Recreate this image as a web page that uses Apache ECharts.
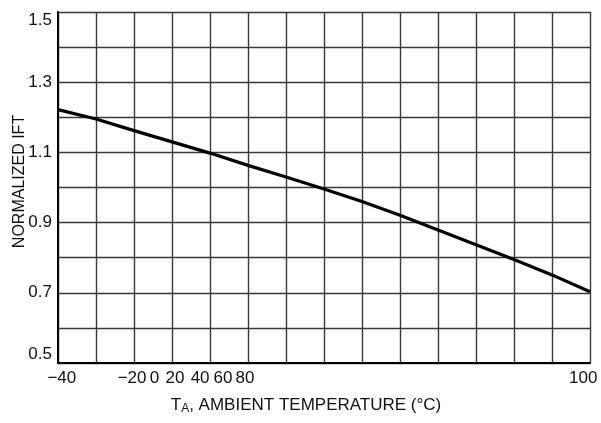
<!DOCTYPE html>
<html>
<head>
<meta charset="utf-8">
<script src="https://cdn.jsdelivr.net/npm/echarts@6/dist/echarts.min.js"></script>
<style>
  html, body { margin: 0; padding: 0; background: #fff; }
  #chart { width: 601px; height: 423px; }
</style>
</head>
<body>
<div id="chart"></div>
<script>
// ambient temperature (°C) and normalized IFT
var tempC = [-40, -30, -20, -10, 0, 10, 20, 30, 40, 50, 60, 70, 80, 90, 100];
var normIft = [1.222, 1.195, 1.162, 1.130, 1.098, 1.063, 1.030, 0.996, 0.960, 0.921, 0.879, 0.837, 0.795, 0.751, 0.703];

// printed x tick labels and the temperature they sit over in the original print
var xTickLabels = ['\u221240', '\u221220', '0', '20', '40', '60', '80', '100'];
var xTickLabelAt = [-39, -20.5, -14.6, -9.2, -2.6, 3.4, 9.2, 98.2];

var yTickLabels = [0.5, 0.7, 0.9, 1.1, 1.3, 1.5];

var FONT = '"Liberation Sans", Arial, sans-serif';

var points = [];
for (var i = 0; i < tempC.length; i++) {
	points.push([tempC[i], normIft[i]]);
}

var myChart = echarts.init(document.getElementById('chart'), null, { renderer: 'canvas' });

var option = {
	animation: false,
	backgroundColor: '#fff',
	grid: {
		left: 58,
		right: 11,
		top: 12,
		bottom: 60,
		containLabel: false,
		outerBoundsMode: 'none'
	},
	xAxis: {
		type: 'value',
		min: -40,
		max: 100,
		interval: 10,
		axisLine: { show: true, onZero: false, lineStyle: { color: '#000', width: 2 } },
		axisTick: { show: false },
		splitLine: { show: true, lineStyle: { color: '#3a3a3a', width: 1.4 } },
		axisLabel: {
			customValues: xTickLabelAt,
			formatter: function (val, idx) {
				var k = xTickLabelAt.indexOf(val);
				return xTickLabels[k >= 0 ? k : idx];
			},
			hideOverlap: false,
			margin: 7,
			color: '#111',
			fontFamily: FONT,
			fontSize: 17
		},
		name: '{t|T}{s|A}{t|, AMBIENT TEMPERATURE (\u00b0C)}',
		nameLocation: 'middle',
		nameGap: 34,
		nameTextStyle: {
			padding: [0, 36, 0, 0],
			rich: {
				t: { fontFamily: FONT, fontSize: 17, color: '#111', lineHeight: 18, verticalAlign: 'top' },
				s: { fontFamily: FONT, fontSize: 12, color: '#111', lineHeight: 14, verticalAlign: 'bottom', padding: [9, 0, 0, 0] }
			}
		}
	},
	yAxis: {
		type: 'value',
		min: 0.5,
		max: 1.5,
		interval: 0.1,
		axisLine: { show: true, onZero: false, lineStyle: { color: '#000', width: 2 } },
		axisTick: { show: false },
		splitLine: { show: true, lineStyle: { color: '#3a3a3a', width: 1.4 } },
		axisLabel: {
			customValues: yTickLabels,
			formatter: function (val) { return val.toFixed(1); },
			verticalAlignMinLabel: 'bottom',
			verticalAlignMaxLabel: 'top',
			margin: 6,
			color: '#111',
			fontFamily: FONT,
			fontSize: 17
		},
		name: 'NORMALIZED IFT',
		nameLocation: 'middle',
		nameRotate: 90,
		nameGap: 30,
		nameMoveOverlap: false,
		nameTextStyle: {
			color: '#111',
			fontFamily: FONT,
			fontSize: 16,
			padding: [0, 0, 0, 12]
		}
	},
	series: [
		{
			type: 'line',
			data: points,
			showSymbol: false,
			smooth: false,
			lineStyle: { color: '#000', width: 3.2, join: 'round' },
			z: 5
		}
	]
};

myChart.setOption(option);
</script>
</body>
</html>
